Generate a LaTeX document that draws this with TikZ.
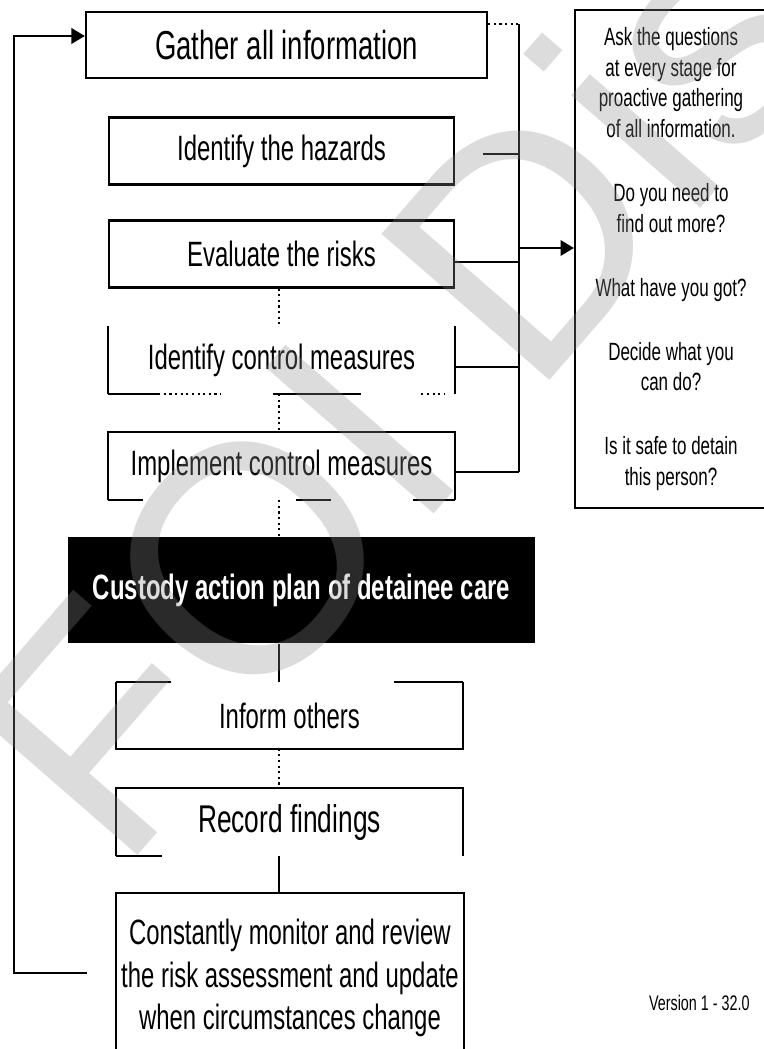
\documentclass[tikz,border=0pt]{standalone}
\usepackage{fontspec}
\setmainfont{Liberation Sans}
\newfontfamily\narrowfont{Liberation Sans}[FakeStretch=0.68]
\usetikzlibrary{arrows.meta}

\begin{document}
\begin{tikzpicture}[x=0.01cm, y=-0.01cm,
  stage/.style={minimum width=3.45cm, minimum height=0.67cm, inner sep=0pt,
                font=\narrowfont\fontsize{10}{12}\selectfont},
  frame/.style={stage, draw, line width=0.6pt},
  link/.style={line width=0.6pt},
  faint/.style={line width=0.6pt, densely dotted},
  tip/.style={line width=0.6pt, -{Triangle[length=3.8pt, width=4.4pt]}},
  wmark/.style={rotate=49, anchor=base west, font=\fontsize{92}{92}\selectfont,
                text=black!45, text opacity=0.3}
]
\useasboundingbox (0,0) rectangle (763,1049);
% ---------------- assessment stages ----------------
\node[frame, minimum width=4.01cm, minimum height=0.66cm,
      font=\narrowfont\fontsize{11.5}{13}\selectfont] (gather) at (286.5,45) {Gather all information};
\node[frame] (hazards) at (281.5,151) {Identify the hazards};
\node[frame] (evaluate) at (281.5,254) {Evaluate the risks};
\node[stage] (control) at (281.5,360) {Identify control measures};
\node[stage] (implement) at (281.5,466) {Implement control measures};
\draw[link] (control.north west) -- (control.south west)
            (control.north east) -- (control.south east);
\draw[link] (control.south west) -- ++(50,0)
            ([xshift=1.65cm]control.south west) -- ++(88,0);
\draw[faint] ([xshift=0.5cm]control.south west) -- ++(63,0)
             ([xshift=3.13cm]control.south west) -- ++(24,0);
\draw[link] (implement.south west) -- (implement.north west) -- (implement.north east) -- (implement.south east);
\draw[link] (implement.south west) -- ++(35,0)
            ([xshift=1.88cm]implement.south west) -- ++(35,0)
            ([xshift=3.05cm]implement.south west) -- (implement.south east);

% ---------------- action plan ----------------
\node[fill=black, text=white, minimum width=4.67cm, minimum height=1.06cm, inner sep=0pt,
      font=\narrowfont\bfseries\fontsize{10}{12}\selectfont] (plan) at (301.5,590)
      {Custody action plan of detainee care};
\node[stage, minimum width=3.45cm, minimum height=0.65cm] (inform) at (289.5,715.5) {Inform others};
\node[stage, minimum height=0.66cm, font=\narrowfont\fontsize{11}{13}\selectfont] (record) at (289.5,822) {Record findings};
\node[stage, minimum width=3.46cm, minimum height=1.68cm, align=center,
      font=\narrowfont\fontsize{10}{12}\selectfont] (monitor) at (290,978)
      {Constantly monitor and review\\the risk assessment and update\\when circumstances change};
\draw[link] (inform.north west) -- (inform.south west) -- (inform.south east) -- (inform.north east);
\draw[link] (inform.north west) -- ++(55,0)
            ([xshift=2.78cm]inform.north west) -- (inform.north east);
\draw[link] (record.south west) -- (record.north west) -- (record.north east) -- (record.south east);
\draw[link] (record.south west) -- ++(46,0);
\draw[link] (monitor.south west) -- (monitor.north west) -- (monitor.north east) -- (monitor.south east);

% ---------------- questions ----------------
\node[draw, line width=0.6pt, minimum width=1.92cm, minimum height=4.98cm, align=center,
      font=\narrowfont\fontsize{7.1}{8.7}\selectfont] (side) at (671,259)
      {Ask the questions\\at every stage for\\proactive gathering\\of all information.\\[9.5pt]
       Do you need to\\find out more?\\[9.5pt]
       What have you got?\\[9.5pt]
       Decide what you\\can do?\\[9.5pt]
       Is it safe to detain\\this person?};
\node[anchor=east, font=\narrowfont\fontsize{6}{7}\selectfont] (version) at (762,1003) {Version 1 - 32.0};

% ---------------- connectors ----------------
\coordinate (btop) at (519,24);
\coordinate (b1) at (519,154);
\coordinate (b2) at (519,262);
\coordinate (b3) at (519,367);
\coordinate (b4) at (519,472);
\coordinate (bout) at (519,248);
\draw[faint] (btop -| gather.east) -- (btop);
\draw[link] (btop) -- (b4);
\draw[link, shorten <=0.28cm] (b1 -| hazards.east) -- (b1);
\draw[link] (b2 -| evaluate.east) -- (b2);
\draw[link] (b3 -| control.east) -- (b3);
\draw[link] (b4 -| implement.east) -- (b4);
\draw[tip] (bout) -- (bout -| side.west);

\coordinate (spine) at (279,0);
\draw[faint] (evaluate.south -| spine) -- (control.north -| spine);
\draw[faint] (control.south -| spine) -- (implement.north -| spine);
\draw[faint] (implement.south -| spine) -- (plan.north -| spine);
\draw[link] (plan.south -| spine) -- (inform.north -| spine);
\draw[faint] (inform.south -| spine) -- (record.north -| spine);
\draw[link] (record.south -| spine) -- (monitor.north -| spine);

\coordinate (fbtop) at (14,36);
\coordinate (fbend) at (87,973);
\draw[tip] (fbend) -| (fbtop) -- (fbtop -| gather.west);

% watermark
\node[wmark] (wm) at (112,885) {FOI Disclosure};
\end{tikzpicture}
\end{document}
